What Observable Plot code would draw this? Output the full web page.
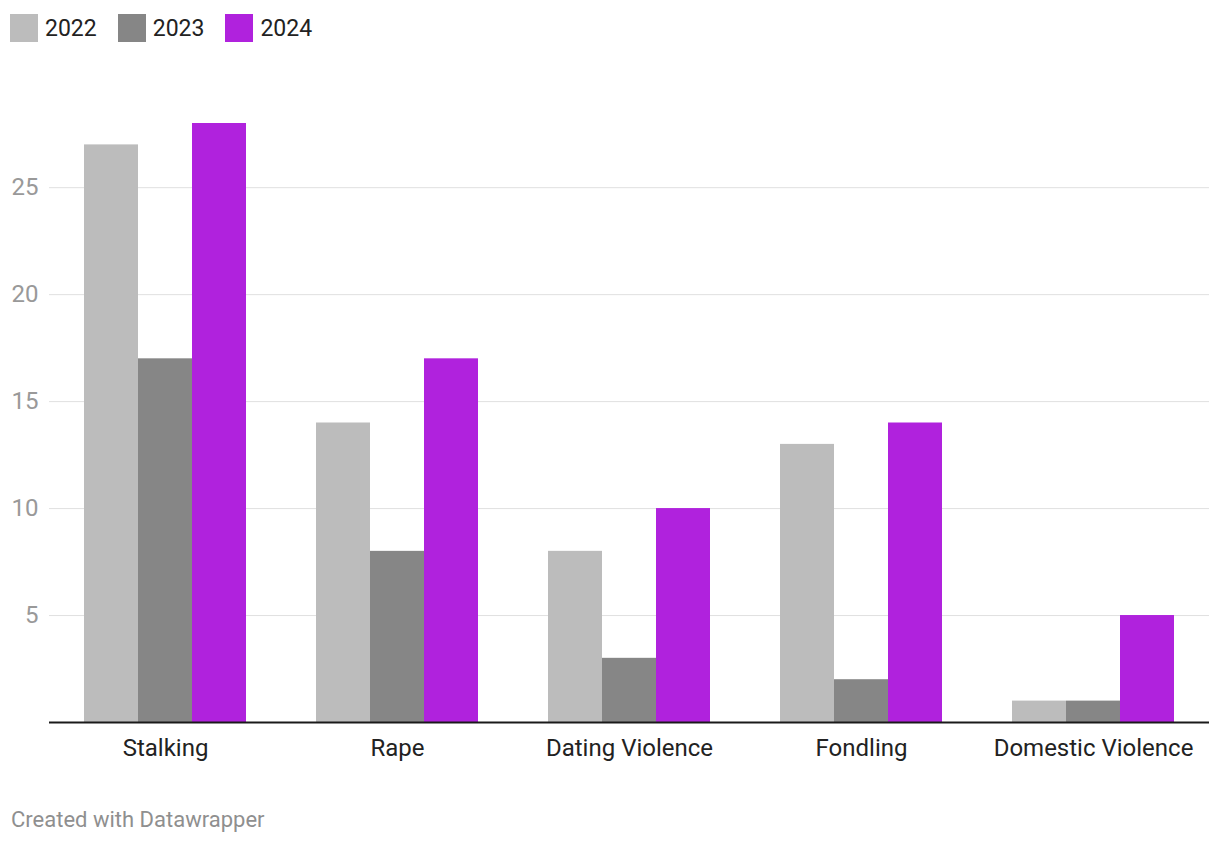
<!DOCTYPE html>
<html><head><meta charset="utf-8">
<script src="https://cdn.jsdelivr.net/npm/d3@7"></script>
<script src="https://cdn.jsdelivr.net/npm/@observablehq/plot@0.6"></script>
<style>
body{margin:0;background:#fff;font-family:Roboto,sans-serif;}
#wrap{position:relative;width:1220px;height:844px;overflow:hidden;}
#legend{position:absolute;left:10px;top:14px;display:flex;align-items:center;font-size:23px;color:#222;z-index:2;}
.item{display:flex;align-items:center;margin-right:21px;}
.sw{width:28px;height:28px;margin-right:7px;}
#chart{position:absolute;left:0;top:0;}
#footer{position:absolute;left:11px;top:809px;font-size:22px;line-height:1;color:#8f8f8f;}
</style></head>
<body><div id="wrap"><div id="legend"></div><div id="chart"></div><div id="footer">Created with Datawrapper</div></div>
<script>
const categories = ["Stalking","Rape","Dating Violence","Fondling","Domestic Violence"];
const years = ["2022","2023","2024"];
const values2022 = [27,14,8,13,1];
const values2023 = [17,8,3,2,1];
const values2024 = [28,17,10,14,5];
const yTicks = [5,10,15,20,25];
const colors = ["#bcbcbc","#868686","#b022dd"];

const series = [values2022, values2023, values2024];
const rows = [];
categories.forEach((c,i)=>{ series.forEach((v,j)=>rows.push({category:c, year:years[j], value:v[i]})); });

const legend = document.getElementById("legend");
years.forEach((y,j)=>{
  const it = document.createElement("div"); it.className="item";
  const sw = document.createElement("div"); sw.className="sw"; sw.style.background=colors[j];
  const t = document.createElement("span"); t.textContent=y;
  it.appendChild(sw); it.appendChild(t); legend.appendChild(it);
});

// groups fill 70% of each category slot
const groupFraction = 0.7;
const outerPad = (years.length / groupFraction - years.length) / 2;

const chart = Plot.plot({
  width:1220, height:800,
  marginTop:123, marginBottom:78, marginLeft:48, marginRight:10,
  style:{fontFamily:"Roboto, sans-serif", fontSize:"24px", background:"transparent", overflow:"visible"},
  fx:{domain:categories, padding:0, label:null},
  x:{domain:years, paddingInner:0, paddingOuter:outerPad, axis:null},
  y:{domain:[0,28], axis:null},
  color:{domain:years, range:colors},
  marks:[
    Plot.ruleY(yTicks, {y:d=>d, stroke:"#e0e0e0", strokeWidth:1}),
    Plot.axisY(yTicks, {tickSize:0, tickPadding:11, fill:"#999", fontSize:24, label:null}),
    Plot.barY(rows, {fx:"category", x:"year", y:"value", fill:"year"}),
    Plot.ruleY([0], {stroke:"#1a1a1a", strokeWidth:2}),
    Plot.axisFx({anchor:"bottom", tickSize:0, tickPadding:16, fill:"#222", fontSize:24, label:null})
  ]
});
document.getElementById("chart").appendChild(chart);
</script></body></html>
